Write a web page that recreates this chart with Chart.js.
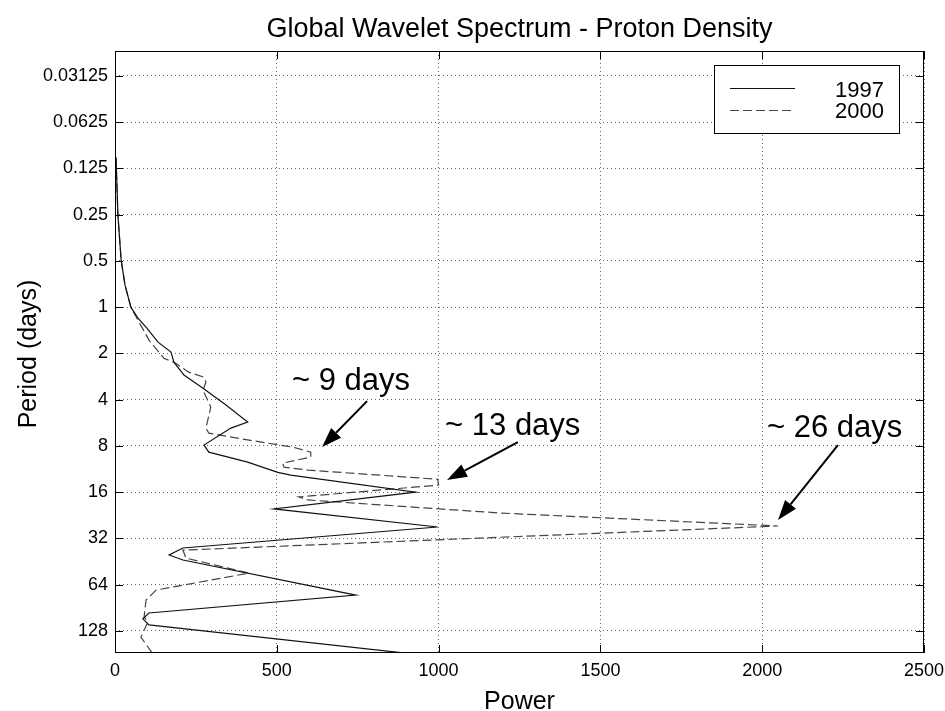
<!DOCTYPE html>
<html>
<head>
<meta charset="utf-8">
<script src="https://cdn.jsdelivr.net/npm/chart.js@4/dist/chart.umd.min.js"></script>
<style>
  html, body { margin: 0; padding: 0; background: #fff; }
  #wrap { width: 945px; height: 711px; }
</style>
</head>
<body>
<div id="wrap"><canvas id="chart" width="945" height="711"></canvas></div>
<script>
const FONT = '"Liberation Sans", Arial, Helvetica, sans-serif';

// tick labels
const periodTicks = [0.03125, 0.0625, 0.125, 0.25, 0.5, 1, 2, 4, 8, 16, 32, 64, 128];
const powerTicks = [0, 500, 1000, 1500, 2000, 2500];

// 1997 (solid)
const period1997 = [0.106, 0.161, 0.252, 0.494, 0.719, 1, 1.18, 1.35, 1.69, 1.96, 2.28, 2.77, 3.37, 4.34, 5.6, 6.13, 7.91, 8.79, 10.2, 11.9, 12.4, 16.0, 20.6, 27.0, 37.0, 41.1, 44.3, 74.9, 98, 107, 117, 181];
const power1997 = [3, 6, 9, 19, 31, 49, 71, 96, 133, 173, 182, 213, 272, 343, 410, 358, 275, 290, 410, 503, 543, 929, 491, 997, 210, 167, 210, 744, 105, 86, 105, 920];

// 2000 (dashed)
const period2000 = [0.106, 0.161, 0.252, 0.494, 0.719, 1, 1.215, 1.64, 2.15, 2.32, 2.65, 2.86, 3.08, 3.47, 4.48, 6.13, 6.61, 7.34, 8.15, 8.79, 9.47, 10.36, 11.0, 11.5, 13.2, 14.4, 17.2, 18.0, 21.9, 26.6, 38.2, 43.0, 53.9, 69.5, 80.7, 104, 112, 140.6, 181];
const power2000 = [3, 6, 9, 19, 31, 49, 71, 105, 151, 188, 228, 275, 281, 272, 296, 281, 290, 414, 549, 605, 605, 518, 522, 596, 997, 1000, 568, 596, 1191, 2049, 210, 219, 414, 127, 96, 90, 102, 80, 117];

// annotations, in (power, period)
const notes = [
  { text: '~ 9 days', at: [547, 3.47], tail: [779, 4.09], tip: [640, 8.15] },
  { text: '~ 13 days', at: [1020, 6.81], tail: [1245, 7.56], tip: [1026, 13.37] },
  { text: '~ 26 days', at: [2015, 7.02], tail: [2234, 7.91], tip: [2049, 24.3] }
];

function toPoints(periods, powers) {
  return periods.map((p, i) => ({ x: powers[i], y: p }));
}

function arrow(ctx, x0, y0, x1, y1) {
  const ang = Math.atan2(y1 - y0, x1 - x0);
  const len = 20, half = 7;
  const bx = x1 - len * Math.cos(ang), by = y1 - len * Math.sin(ang);
  ctx.beginPath();
  ctx.moveTo(x0, y0);
  ctx.lineTo(bx, by);
  ctx.stroke();
  ctx.beginPath();
  ctx.moveTo(x1, y1);
  ctx.lineTo(bx + half * Math.sin(ang), by - half * Math.cos(ang));
  ctx.lineTo(bx - half * Math.sin(ang), by + half * Math.cos(ang));
  ctx.closePath();
  ctx.fill();
}

const overlay = {
  id: 'overlay',
  afterDraw(chart) {
    const { ctx, chartArea: ca, scales: { x, y } } = chart;
    ctx.save();
    ctx.strokeStyle = '#000';
    ctx.fillStyle = '#000';
    ctx.lineWidth = 1;

    // axes box
    ctx.strokeRect(ca.left + 0.5, ca.top + 0.5, ca.right - ca.left - 1, ca.bottom - ca.top - 1);

    // inner tick marks
    ctx.beginPath();
    powerTicks.forEach(v => {
      const px = Math.round(x.getPixelForValue(v)) + 0.5;
      ctx.moveTo(px, ca.bottom); ctx.lineTo(px, ca.bottom - 8);
      ctx.moveTo(px, ca.top); ctx.lineTo(px, ca.top + 8);
    });
    periodTicks.forEach(v => {
      const py = Math.round(y.getPixelForValue(v)) + 0.5;
      ctx.moveTo(ca.left, py); ctx.lineTo(ca.left + 8, py);
      ctx.moveTo(ca.right, py); ctx.lineTo(ca.right - 8, py);
    });
    ctx.stroke();

    // title and axis titles
    ctx.textAlign = 'center';
    ctx.textBaseline = 'alphabetic';
    ctx.font = '27px ' + FONT;
    ctx.fillText('Global Wavelet Spectrum - Proton Density', (ca.left + ca.right) / 2, 37);
    ctx.font = '25px ' + FONT;
    ctx.fillText('Power', (ca.left + ca.right) / 2, 709);
    ctx.save();
    ctx.translate(36, 354);
    ctx.rotate(-Math.PI / 2);
    ctx.fillText('Period (days)', 0, 0);
    ctx.restore();

    // annotations
    ctx.textAlign = 'left';
    ctx.font = '31px ' + FONT;
    ctx.lineWidth = 2;
    notes.forEach(n => {
      ctx.fillText(n.text, x.getPixelForValue(n.at[0]), y.getPixelForValue(n.at[1]));
      arrow(ctx, x.getPixelForValue(n.tail[0]), y.getPixelForValue(n.tail[1]),
        x.getPixelForValue(n.tip[0]), y.getPixelForValue(n.tip[1]));
    });

    // legend
    const bw = 185, bh = 68;
    const bx = ca.right - 25 - bw, by = ca.top + 14;
    ctx.fillStyle = '#fff';
    ctx.fillRect(bx, by, bw, bh);
    ctx.lineWidth = 1;
    ctx.strokeStyle = '#000';
    ctx.strokeRect(bx + 0.5, by + 0.5, bw, bh);
    ctx.beginPath();
    ctx.strokeStyle = '#111';
    ctx.moveTo(bx + 16, by + 23.5); ctx.lineTo(bx + 81, by + 23.5);
    ctx.stroke();
    ctx.beginPath();
    ctx.strokeStyle = '#444';
    ctx.setLineDash([9, 4]);
    ctx.moveTo(bx + 16, by + 45.5); ctx.lineTo(bx + 81, by + 45.5);
    ctx.stroke();
    ctx.setLineDash([]);
    ctx.fillStyle = '#000';
    ctx.textAlign = 'right';
    ctx.font = '22px ' + FONT;
    ctx.fillText('1997', bx + bw - 15, by + 32);
    ctx.fillText('2000', bx + bw - 15, by + 53);
    ctx.restore();
  }
};

new Chart(document.getElementById('chart'), {
  type: 'scatter',
  data: {
    datasets: [
      {
        label: '1997',
        data: toPoints(period1997, power1997),
        showLine: true,
        borderColor: '#111',
        borderWidth: 1.2,
        pointRadius: 0,
        tension: 0
      },
      {
        label: '2000',
        data: toPoints(period2000, power2000),
        showLine: true,
        borderColor: '#444',
        borderWidth: 1.2,
        borderDash: [9, 4],
        pointRadius: 0,
        tension: 0
      }
    ]
  },
  options: {
    responsive: false,
    animation: false,
    devicePixelRatio: 1,
    layout: { padding: { left: 0, right: 21, top: 51, bottom: 0 } },
    plugins: {
      legend: { display: false },
      title: { display: false },
      tooltip: { enabled: false }
    },
    scales: {
      x: {
        type: 'linear',
        min: 0,
        max: 2500,
        afterBuildTicks: s => { s.ticks = powerTicks.map(v => ({ value: v })); },
        afterFit: s => { s.height = 58; s.paddingLeft = 0; s.paddingRight = 0; },
        ticks: {
          color: '#000',
          font: { family: FONT, size: 18 },
          padding: 7,
          maxRotation: 0,
          autoSkip: false,
          callback: v => String(v)
        },
        grid: {
          color: '#666',
          lineWidth: 1,
          drawTicks: false
        },
        border: { display: false, dash: [1, 3] }
      },
      y: {
        type: 'logarithmic',
        reverse: true,
        min: Math.pow(2, -5.54),
        max: Math.pow(2, 7.48),
        afterBuildTicks: s => { s.ticks = periodTicks.map(v => ({ value: v })); },
        afterFit: s => { s.width = 115; s.paddingTop = 0; s.paddingBottom = 0; },
        ticks: {
          color: '#000',
          font: { family: FONT, size: 18 },
          padding: 7,
          autoSkip: false,
          callback: v => String(v)
        },
        grid: {
          color: '#666',
          lineWidth: 1,
          drawTicks: false
        },
        border: { display: false, dash: [1, 3] }
      }
    }
  },
  plugins: [overlay]
});
</script>
</body>
</html>
